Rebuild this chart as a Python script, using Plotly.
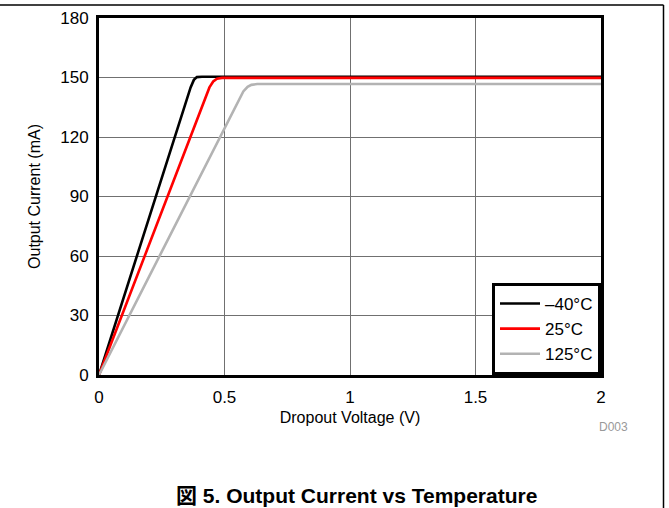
import plotly.graph_objects as go

# ---- data ----
series_names = ["\u201340\u00b0C", "25\u00b0C", "125\u00b0C"]
black_v = [0, 0.075, 0.15, 0.225, 0.30, 0.35, 0.365, 0.378, 0.39, 0.41, 2.0]
black_i = [0, 30, 60, 90, 120, 140, 145, 148.8, 150.2, 150.4, 150.4]
red_v = [0, 0.091, 0.182, 0.273, 0.364, 0.42, 0.44, 0.455, 0.47, 0.49, 2.0]
red_i = [0, 30, 60, 90, 120, 138.6, 145, 148, 149.4, 149.8, 149.8]
gray_v = [0, 0.12, 0.24, 0.36, 0.47, 0.555, 0.575, 0.592, 0.607, 0.63, 2.0]
gray_i = [0, 30, 60, 90, 117.5, 138.7, 143, 145.3, 146.3, 146.7, 146.7]
x_ticks = [0, 0.5, 1, 1.5, 2]
x_ticktext = ["0", "0.5", "1", "1.5", "2"]
y_ticks = [0, 30, 60, 90, 120, 150, 180]
y_ticktext = ["0", "30", "60", "90", "120", "150", "180"]
x_title = "Dropout Voltage (V)"
y_title = "Output Current (mA)"
caption = "図 5. Output Current vs Temperature"
code_label = "D003"

colors = ["#000000", "#ff0000", "#b3b3b3"]
W, H = 669, 508
L, R, T, B = 99, 68, 18, 133
pw, ph = W - L - R, H - T - B
FONT = "Liberation Sans, Arial, Noto Sans CJK JP, sans-serif"

def px_x(p):
    return (p - L) / pw

def px_y(p):
    return (H - B - p) / ph

fig = go.Figure()
for name, v, i, c in zip(series_names, [black_v, red_v, gray_v], [black_i, red_i, gray_i], colors):
    fig.add_trace(go.Scatter(x=v, y=i, mode="lines", name=name,
                             line=dict(color=c, width=2.6, shape="linear")))

axis_common = dict(showline=True, mirror=True, linecolor="black", linewidth=3,
                   showgrid=True, gridcolor="#707070", gridwidth=1,
                   zeroline=False, ticks="", tickfont=dict(size=17, color="black", family=FONT))
fig.update_xaxes(range=[0, 2], tickvals=x_ticks, ticktext=x_ticktext, ticklabelstandoff=5,
                 title=dict(text=x_title, font=dict(size=16, color="black", family=FONT), standoff=6),
                 **axis_common)
fig.update_yaxes(range=[0, 180], tickvals=y_ticks, ticktext=y_ticktext, ticklabelstandoff=4,
                 title=dict(text=y_title, font=dict(size=16, color="black", family=FONT), standoff=16),
                 **axis_common)

fig.update_layout(
    width=W, height=H,
    margin=dict(l=L, r=R, t=T, b=B, autoexpand=False),
    paper_bgcolor="white", plot_bgcolor="white",
    font=dict(family=FONT, size=16, color="black"),
    showlegend=True,
    legend=dict(x=1, xanchor="right", y=0, yanchor="bottom",
                bordercolor="black", borderwidth=3, bgcolor="white",
                font=dict(size=17, color="black", family=FONT),
                itemwidth=40, tracegroupgap=0),
    shapes=[
        dict(type="line", xref="paper", yref="paper", x0=px_x(0), x1=px_x(663.5),
             y0=px_y(5), y1=px_y(5), line=dict(color="black", width=1.5)),
        dict(type="line", xref="paper", yref="paper", x0=px_x(663.5), x1=px_x(663.5),
             y0=px_y(5), y1=px_y(H + 2), line=dict(color="black", width=1.5)),
    ],
    annotations=[
        dict(text=code_label, xref="paper", yref="paper", x=px_x(613), y=px_y(427),
             xanchor="center", yanchor="middle", showarrow=False,
             font=dict(size=12, color="#999999", family=FONT)),
        dict(text="<b>" + caption + "</b>", xref="paper", yref="paper", x=px_x(356), y=px_y(495),
             xanchor="center", yanchor="middle", showarrow=False,
             font=dict(size=21, color="black", family=FONT)),
    ],
)

fig.write_html("out.html", config={"displayModeBar": False},
               post_script="document.body.style.margin='0';document.body.style.overflow='hidden';")
